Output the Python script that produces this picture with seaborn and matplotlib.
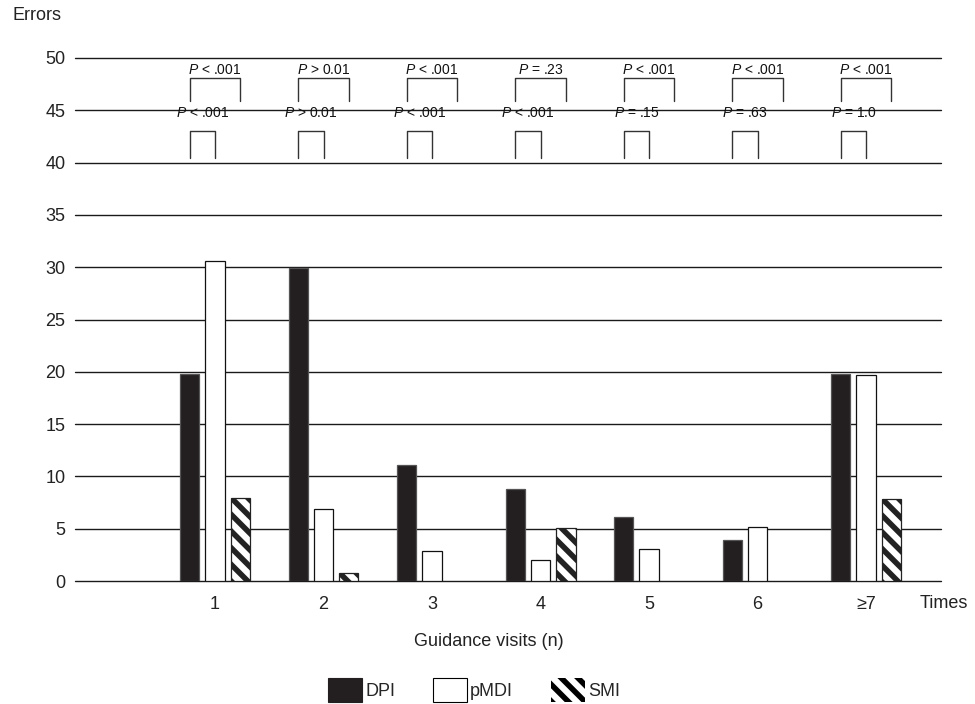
import matplotlib
matplotlib.use("Agg")
import matplotlib.pyplot as plt
from matplotlib.patches import Patch
import numpy as np
import pandas as pd
import seaborn as sns

# Number of errors per device by number of guidance visits
visits = ["1", "2", "3", "4", "5", "6", "≥7"]
devices = ["DPI", "pMDI", "SMI"]
dpi_errors = [19.8, 29.9, 11.1, 8.8, 6.1, 3.9, 19.8]
pmdi_errors = [30.6, 6.9, 2.9, 2.0, 3.1, 5.2, 19.7]
smi_errors = [7.9, 0.8, None, 5.1, None, None, 7.8]

# P values: upper row DPI vs SMI, lower row DPI vs pMDI
p_dpi_smi = ["< .001", "> 0.01", "< .001", "= .23", "< .001", "< .001", "< .001"]
p_dpi_pmdi = ["< .001", "> 0.01", "< .001", "< .001", "= .15", "= .63", "= 1.0"]

yticks = [0, 5, 10, 15, 20, 25, 30, 35, 40, 45, 50]

rows = []
for dev, vals in zip(devices, [dpi_errors, pmdi_errors, smi_errors]):
    for v, e in zip(visits, vals):
        if e is not None:
            rows.append({"visits": v, "device": dev, "errors": e})
df = pd.DataFrame(rows)

sns.set_theme(style="white")
FONT = ["Liberation Sans", "DejaVu Sans"]
plt.rcParams["font.family"] = FONT
plt.rcParams["mathtext.fontset"] = "custom"
plt.rcParams["mathtext.rm"] = "Liberation Sans"
plt.rcParams["mathtext.it"] = "Liberation Sans:italic"
plt.rcParams["hatch.linewidth"] = 4.0

fig = plt.figure(figsize=(9.75, 7.04), dpi=100)
ax = fig.add_axes([75 / 975, 1 - 581 / 704, (941 - 75) / 975, (581 - 58) / 704])

face = {"DPI": "#231f20", "pMDI": "white", "SMI": "white"}
edge = {"DPI": "#555555", "pMDI": "#111111", "SMI": "#222222"}
hatch = {"DPI": None, "pMDI": None, "SMI": "\\\\"}

dodge_width = 0.70
sns.barplot(data=df, x="visits", y="errors", hue="device", order=visits,
            hue_order=devices, width=dodge_width, gap=0.24, ax=ax,
            palette=["#231f20", "white", "white"], legend=False,
            linewidth=0.9, edgecolor="black", zorder=2)

for dev, cont in zip(devices, ax.containers):
    for bar in cont:
        bar.set_facecolor(face[dev])
        bar.set_edgecolor(edge[dev])
        if hatch[dev]:
            bar.set_hatch(hatch[dev])

# horizontal reference lines
for yv in yticks:
    ax.axhline(yv, color="#1a1a1a", lw=1.0, zorder=0, clip_on=False)

ax.set_ylim(0, 50)
ax.set_xlim(-1.29, 6.69)
ax.set_yticks(yticks)
ax.set_yticklabels([str(v) for v in yticks], fontsize=13, color="#222222")
ax.set_xticks(range(len(visits)))
ax.set_xticklabels(visits, fontsize=13, color="#222222")
ax.tick_params(axis="y", length=0, pad=7)
ax.tick_params(axis="x", length=0, pad=11)
for s in ax.spines.values():
    s.set_visible(False)
ax.set_xlabel("")
ax.set_ylabel("")

# significance brackets
step = dodge_width / 3
for i in range(len(visits)):
    x_dpi = i - step
    x_pmdi = i
    x_smi = i + step
    # DPI vs SMI
    ax.plot([x_dpi, x_dpi, x_smi, x_smi], [45.9, 48.1, 48.1, 45.9],
            color="#333333", lw=1.0, zorder=3)
    ax.text((x_dpi + x_smi) / 2, 48.85, "$P$ " + p_dpi_smi[i], ha="center",
            va="center", fontsize=10, color="#111111")
    # DPI vs pMDI
    ax.plot([x_dpi, x_dpi, x_pmdi, x_pmdi], [40.4, 43.0, 43.0, 40.4],
            color="#333333", lw=1.0, zorder=3)
    ax.text((x_dpi + x_pmdi) / 2, 44.7, "$P$ " + p_dpi_pmdi[i], ha="center",
            va="center", fontsize=10, color="#111111")

fig.text(13 / 975, 1 - 15 / 704, "Errors", ha="left", va="center",
         fontsize=13, color="#222222")
fig.text(920 / 975, 1 - 604 / 704, "Times", ha="left", va="center",
         fontsize=13, color="#222222")
fig.text(489 / 975, 1 - 641 / 704, "Guidance visits (n)", ha="center",
         va="center", fontsize=13, color="#222222")

handles = [Patch(facecolor=face[d], edgecolor=("black" if d != "DPI" else face[d]),
                 hatch=hatch[d], lw=(0 if d == "SMI" else 0.8)) for d in devices]
fig.legend(handles, devices, loc="center", bbox_to_anchor=(474 / 975, 1 - 690 / 704),
           ncol=3, frameon=False, fontsize=13, handlelength=1.9, handleheight=1.6,
           handletextpad=0.15, columnspacing=2.1, borderaxespad=0, borderpad=0)

fig.savefig("out.png", dpi=100)
